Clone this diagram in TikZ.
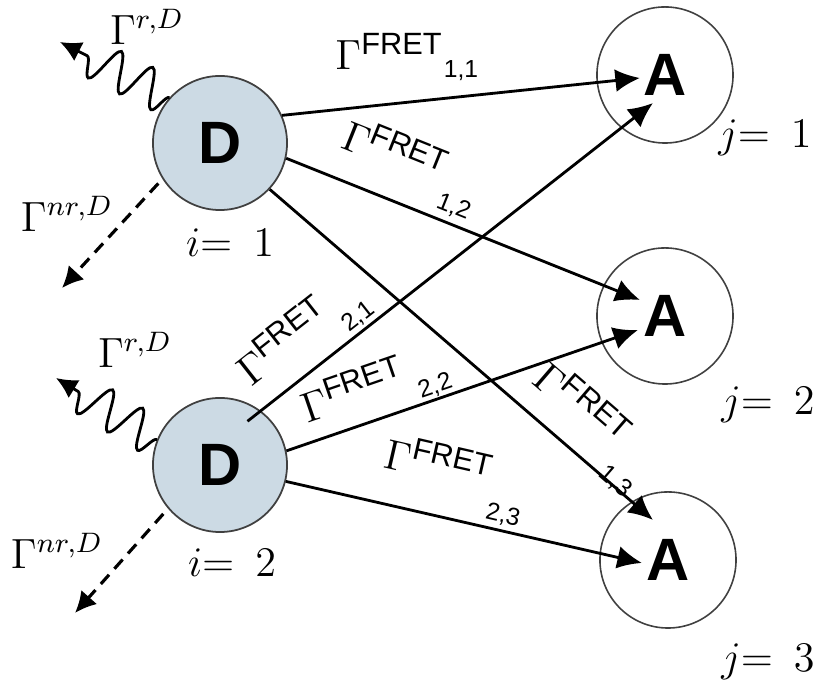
\documentclass[tikz,border=0pt]{standalone}
\usepackage{amsmath}
\usepackage{fontspec}
\setsansfont{Liberation Sans}
\usetikzlibrary{arrows.meta,calc,decorations.pathmorphing}

\definecolor{donorblue}{RGB}{204,218,228}
\tikzset{
    donor/.style={circle, draw=black!75, line width=0.5pt, fill=donorblue, minimum size=1.34cm, inner sep=0pt, font=\fontsize{17}{20}\selectfont\sffamily\bfseries},
    acceptor/.style={circle, draw=black!75, line width=0.45pt, minimum size=1.36cm, inner sep=0pt, font=\fontsize{17}{20}\selectfont\sffamily\bfseries},
    fret/.style={-{Latex[length=7pt,width=6.5pt]}, line width=0.8pt},
    fretlab/.style={above, inner sep=0pt, font=\fontsize{12.5}{14}\selectfont},
    sublab/.style={above, inner sep=0pt, font=\fontsize{7}{8}\selectfont\sffamily},
    photon/.style={-{Latex[length=6pt,width=6pt]}, line width=0.8pt, decoration={snake, amplitude=5.5pt, segment length=10pt, post length=7pt}, decorate},
    nonrad/.style={-{Latex[length=6pt,width=6pt]}, line width=0.9pt, dash pattern=on 3.5pt off 2.3pt},
    ratelab/.style={inner sep=0pt, font=\fontsize{12}{14}\selectfont}
}

\begin{document}
\begin{tikzpicture}[x=0.01cm, y=-0.01cm]
    \useasboundingbox (0,0) rectangle (823,692);
    % Donors and acceptors
        \node[donor] (D1) at (220,143) {D};
        \node[donor] (D2) at (220,465) {D};
        \node[acceptor] (A1) at (665,75) {A};
        \node[acceptor] (A2) at (665,316) {A};
        \node[acceptor] (A3) at (668,560) {A};
        % Indices
        \node[ratelab] (i1) at (230,243) {$i{=}\enspace 1$};
        \node[ratelab] (i2) at (232,563) {$i{=}\enspace 2$};
        \node[ratelab] (j1) at (765,138) {$j{=}\enspace 1$};
        \node[ratelab] (j2) at (768,405) {$j{=}\enspace 2$};
        \node[ratelab] (j3) at (768,662) {$j{=}\enspace 3$};
        % Decay of the donors
        \coordinate (r1) at (60,42);
        \coordinate (n1) at (62,288);
        \coordinate (r2) at (56,378);
        \coordinate (n2) at (75,613);
        \draw[photon] (D1.138) -- (r1);
        \draw[nonrad, shorten <=0.06cm] (D1.212) -- (n1);
        \draw[photon] (D2.158) -- (r2);
        \draw[nonrad, shorten <=0.07cm] (D2.220) -- (n2);
        \node[ratelab] (gr1) at (147,27) {$\Gamma^{r,D}$};
        \node[ratelab] (gn1) at (67,214) {$\Gamma^{nr,D}$};
        \node[ratelab] (gr2) at (135,350) {$\Gamma^{r,D}$};
        \node[ratelab] (gn2) at (57,551) {$\Gamma^{nr,D}$};
        % Draw transfer arrows
        \draw[fret] (D1.24) -- node[fretlab, pos=.3, above=0.33cm] {$\Gamma^{\textsf{FRET}}$} node[sublab, pos=.5, above=0.145cm] {1,1} ($(A1)+(-25,3)$);
        \draw[fret] (D1.-13) -- node[fretlab, sloped, pos=.26, above=0.285cm] {$\Gamma^{\textsf{FRET}}$} node[sublab, sloped, pos=.455, above=0.055cm] {1,2} ($(A2)+(-25,-16)$);
        \draw[fret] (D1.-43) -- node[fretlab, sloped, pos=.746, above=0.225cm] {$\Gamma^{\textsf{FRET}}$} node[sublab, sloped, pos=.894, above=-0.07cm] {1,3} ($(A3)+(-15,-40)$);
        \draw[fret, shorten <=-0.17cm] (D2.53) -- node[fretlab, sloped, pos=.122, above=0.23cm] {$\Gamma^{\textsf{FRET}}$} node[sublab, sloped, pos=.27, above=0.023cm] {2,1} ($(A1)+(-12,28)$);
        \draw[fret] (D2.12) -- node[fretlab, sloped, pos=.223, above=0.175cm] {$\Gamma^{\textsf{FRET}}$} node[sublab, sloped, pos=.435, above=0.01cm] {2,2} ($(A2)+(-27,14)$);
        \draw[fret] (D2.-14) -- node[fretlab, sloped, pos=.398, above=0.335cm] {$\Gamma^{\textsf{FRET}}$} node[sublab, sloped, pos=.6, above=0.035cm] {2,3} ($(A3)+(-26,3)$);
    \end{tikzpicture}
\end{document}
